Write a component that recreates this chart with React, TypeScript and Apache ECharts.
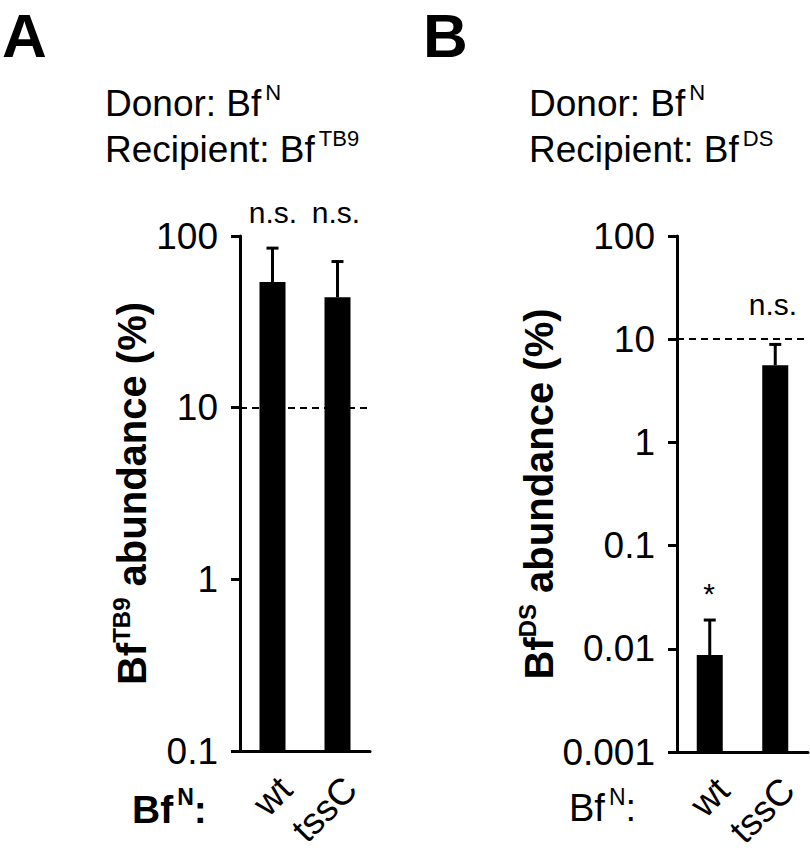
import React, { useEffect, useRef } from 'react';
import * as echarts from 'echarts';

const FONT = '"Liberation Sans", Arial, Helvetica, sans-serif';

// ---- data ----
const categories = ['wt', 'tssC'];
const meanA = [54, 44];
const upperA = [85, 71];
const meanB = [0.0087, 5.6];
const upperB = [0.019, 8.9];
const thresholdA = 10;
const thresholdB = 10;
const yTicksA = ['0.1', '1', '10', '100'];
const yTicksB = ['0.001', '0.01', '0.1', '1', '10', '100'];
const annotationsA = ['n.s.', 'n.s.'];
const annotationsB = ['*', 'n.s.'];

const tickFormatter = (ticks: string[]) => (v: number) =>
  ticks.find((t) => Math.abs(Math.log10(Number(t)) - Math.log10(v)) < 1e-6) ?? '';

function errorSeries(idx: number, means: number[], uppers: number[]) {
  return {
    type: 'custom',
    xAxisIndex: idx,
    yAxisIndex: idx,
    z: 5,
    silent: true,
    data: means.map((m, i) => [i, m, uppers[i]]),
    encode: { x: 0, y: [1, 2] },
    renderItem: (_p: any, api: any) => {
      const base = api.coord([api.value(0), api.value(1)]);
      const top = api.coord([api.value(0), api.value(2)]);
      return {
        type: 'group',
        children: [
          { type: 'line', shape: { x1: base[0], y1: base[1], x2: base[0], y2: top[1] }, style: { stroke: '#000', lineWidth: 3 } },
          { type: 'line', shape: { x1: base[0] - 6, y1: top[1], x2: base[0] + 6, y2: top[1] }, style: { stroke: '#000', lineWidth: 3 } },
        ],
      };
    },
  };
}

function barSeries(idx: number, means: number[], threshold: number) {
  return {
    type: 'bar',
    xAxisIndex: idx,
    yAxisIndex: idx,
    data: means,
    barWidth: 26,
    itemStyle: { color: '#000' },
    silent: true,
    markLine: {
      silent: true,
      symbol: ['none', 'none'],
      label: { show: false },
      lineStyle: { color: '#000', width: 2, type: [7, 5] },
      data: [{ yAxis: threshold }],
    },
  };
}

function supText(x: number, y: number, main: string, sup: string, fs: number, sfs: number, bold: boolean, tail = '') {
  const lm = Math.round(fs * 1.2);
  const ls = lm;
  const w = bold ? 'bold' : 'normal';
  return {
    type: 'text',
    x,
    y,
    style: {
      text: `{m|${main}}{s|${sup}}` + (tail ? `{m|${tail}}` : ''),
      fill: '#000',
      align: 'left',
      verticalAlign: 'middle',
      rich: {
        m: { fontSize: fs, fontFamily: FONT, fontWeight: w, lineHeight: lm, fill: '#000' },
        s: { fontSize: sfs, fontFamily: FONT, fontWeight: w, lineHeight: ls, verticalAlign: 'top', fill: '#000', padding: [0, 0, 0, 4] },
      },
    },
  };
}

function plainText(x: number, y: number, text: string, fs: number, bold: boolean, align = 'center') {
  return {
    type: 'text',
    x,
    y,
    style: { text, fill: '#000', fontSize: fs, fontFamily: FONT, fontWeight: bold ? 'bold' : 'normal', align, verticalAlign: 'middle' },
  };
}

function yAxis(idx: number, min: number, ticks: string[], sup: string, nameGap: number) {
  return {
    type: 'log',
    logBase: 10,
    gridIndex: idx,
    min,
    max: 100,
    startValue: min,
    splitLine: { show: false },
    axisLine: { show: true, lineStyle: { color: '#000', width: 3 } },
    axisTick: { show: true, length: 9, lineStyle: { color: '#000', width: 3 } },
    axisLabel: { color: '#000', fontSize: 37, fontFamily: FONT, margin: 22, formatter: tickFormatter(ticks) },
    name: `{b|Bf}{s|${sup}}{b| abundance (%)}`,
    nameLocation: 'middle',
    nameGap,
    nameRotate: 90,
    nameTextStyle: {
      color: '#000',
      fontSize: 40,
      fontWeight: 'bold',
      fontFamily: FONT,
      rich: {
        b: { color: '#000', fontSize: 40, fontWeight: 'bold', fontFamily: FONT, lineHeight: 46 },
        s: { color: '#000', fontSize: 24, fontWeight: 'bold', fontFamily: FONT, lineHeight: 36, verticalAlign: 'top' },
      },
    },
  };
}

function xAxis(idx: number) {
  return {
    type: 'category',
    gridIndex: idx,
    data: categories,
    axisLine: { show: true, lineStyle: { color: '#000', width: 3 } },
    axisTick: { show: false },
    axisLabel: { color: '#000', fontSize: 37, fontFamily: FONT, rotate: 45, margin: 19, interval: 0, verticalAlign: 'top' },
  };
}

export default function App() {
  const ref = useRef<HTMLDivElement>(null);
  useEffect(() => {
    if (!ref.current) return;
    const chart = echarts.init(ref.current, null, { renderer: 'svg' });
    chart.setOption({
      animation: false,
      backgroundColor: '#fff',
      grid: [
        { left: 240, top: 236, width: 130, height: 515, containLabel: false, outerBoundsMode: 'none' },
        { left: 677, top: 236, width: 131, height: 516, containLabel: false, outerBoundsMode: 'none' },
      ],
      xAxis: [xAxis(0), xAxis(1)],
      yAxis: [yAxis(0, 0.1, yTicksA, 'TB9', 82), yAxis(1, 0.001, yTicksB, 'DS', 114)],
      series: [
        barSeries(0, meanA, thresholdA),
        errorSeries(0, meanA, upperA),
        barSeries(1, meanB, thresholdB),
        errorSeries(1, meanB, upperB),
      ],
      graphic: [
        plainText(2, 35, 'A', 62, true, 'left'),
        plainText(423, 35, 'B', 62, true, 'left'),
        supText(105, 103, 'Donor: Bf', 'N', 37, 22, false),
        supText(105, 149, 'Recipient: Bf', 'TB9', 37, 22, false),
        supText(529, 103, 'Donor: Bf', 'N', 37, 22, false),
        supText(529, 149, 'Recipient: Bf', 'DS', 37, 22, false),
        plainText(273, 212, annotationsA[0], 30, false),
        plainText(336, 212, annotationsA[1], 30, false),
        plainText(709, 593, annotationsB[0], 30, false),
        plainText(773, 304, annotationsB[1], 30, false),
        supText(132, 809, 'Bf', 'N', 39, 23, true, ':'),
        supText(569, 808, 'Bf', 'N', 38, 23, false, ':'),
      ],
    });
    return () => chart.dispose();
  }, []);
  return <div ref={ref} style={{ position: 'absolute', left: 0, top: 0, width: 810, height: 855 }} />;
}
